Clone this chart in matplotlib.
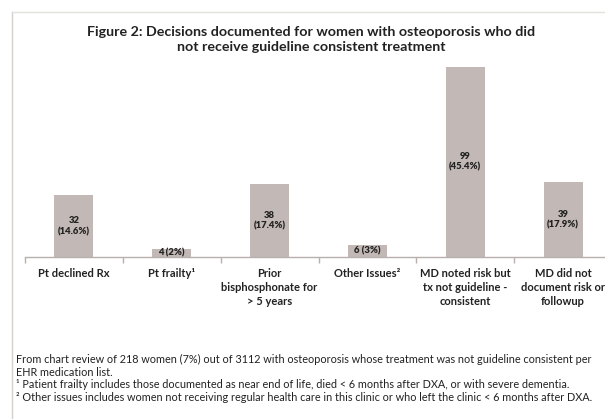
import matplotlib
matplotlib.use("Agg")
import matplotlib.pyplot as plt
from matplotlib.lines import Line2D

plt.rcParams['font.family'] = ['Lato', 'DejaVu Sans']

categories = ["Pt declined Rx", "Pt frailty\u00b9", "Prior\nbisphosphonate for\n> 5 years",
              "Other Issues\u00b2", "MD noted risk but\ntx not guideline -\nconsistent",
              "MD did not\ndocument risk or\nfollowup"]
counts = [32, 4, 38, 6, 99, 39]
pcts = ["14.6%", "2%", "17.4%", "3%", "45.4%", "17.9%"]

title = "Figure 2: Decisions documented for women with osteoporosis who did\nnot receive guideline consistent treatment"
notes = [
    "From chart review of 218 women (7%) out of 3112 with osteoporosis whose treatment was not guideline consistent per",
    "EHR medication list.",
    "\u00b9 Patient frailty includes those documented as near end of life, died < 6 months after DXA, or with severe dementia.",
    "\u00b2 Other issues includes women not receiving regular health care in this clinic or who left the clinic < 6 months after DXA.",
]

W, H = 605, 419
fig = plt.figure(figsize=(W / 100, H / 100), dpi=100)
fig.patch.set_facecolor("white")

TXT = "#222222"
BAR = "#c2b8b5"
AX = "#b8b0ac"

# frame
fig.add_artist(Line2D([12 / W, 12 / W], [0, 1 - 12 / H], color="#d6d0cc", lw=1.0))
fig.add_artist(Line2D([12 / W, 1], [1 - 12 / H, 1 - 12 / H], color="#e4e0dc", lw=1.0))

left_px, right_px = 25, 612
base_px, top_px = 257, 60
ax = fig.add_axes([left_px / W, (H - base_px) / H, (right_px - left_px) / W, (base_px - top_px) / H])
ax.set_xlim(-0.5, len(categories) - 0.5)
ax.set_ylim(0, (base_px - top_px) / 1.923)
ax.set_facecolor("none")

x = list(range(len(categories)))
ax.bar(x, counts, width=0.4, color=BAR, zorder=2)

for xi, c, p in zip(x, counts, pcts):
    if c < 10:
        s = f"{c} ({p})"
    else:
        s = f"{c}\n({p})"
    ax.text(xi, c / 2, s, ha="center", va="center", fontsize=6.8, fontweight="heavy",
            color=TXT, linespacing=1.2, zorder=3)

for s in ["top", "left", "right"]:
    ax.spines[s].set_visible(False)
ax.spines["bottom"].set_color(AX)
ax.spines["bottom"].set_linewidth(1.0)
ax.set_yticks([])
ax.set_xticks(x)
ax.set_xticklabels(categories, fontsize=8.0, fontweight="bold", color=TXT)
ax.tick_params(axis="x", which="major", length=0, pad=8)
ax.set_xticks([i - 0.5 for i in range(len(categories) + 1)], minor=True)
ax.tick_params(axis="x", which="minor", length=4, color=AX, width=1.0)
for t in ax.get_xticklabels():
    t.set_linespacing(1.3)
    t.set_va("top")

fig.text(311 / W, 1 - 39.5 / H, title, ha="center", va="center", fontsize=10.3,
         fontweight="bold", color=TXT, linespacing=1.22)

ys = [359, 372, 384.5, 397]
for yy, n in zip(ys, notes):
    fig.text(16 / W, 1 - yy / H, n, ha="left", va="center", fontsize=7.8, color=TXT)

fig.savefig("out.png", dpi=100, facecolor="white")
